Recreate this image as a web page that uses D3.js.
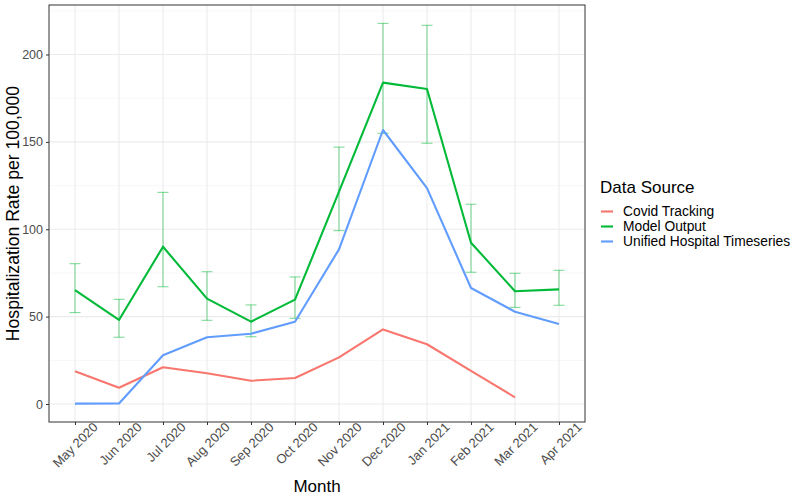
<!DOCTYPE html>
<html><head><meta charset="utf-8">
<script src="https://cdn.jsdelivr.net/npm/d3@7"></script>
<style>body{margin:0;background:#fff;} svg{display:block;font-family:"Liberation Sans",Arial,sans-serif;}</style>
</head><body>
<svg id="c" width="800" height="500"></svg>
<script>
const months = ["May 2020","Jun 2020","Jul 2020","Aug 2020","Sep 2020","Oct 2020","Nov 2020","Dec 2020","Jan 2021","Feb 2021","Mar 2021","Apr 2021"];
const covidTracking = [18.7, 9.3, 21.0, 17.6, 13.3, 14.9, 26.7, 42.7, 34.2, 19.0, 3.8, null];
const modelOutput = [65.2, 48.1, 90.0, 60.3, 47.1, 59.7, 121.5, 183.9, 180.3, 92.3, 64.5, 65.6];
const modelLower = [52.3, 38.2, 67.1, 47.9, 38.5, 49.0, 99.2, 154.9, 149.2, 75.4, 55.3, 56.5];
const modelUpper = [80.3, 59.9, 121.1, 75.7, 56.7, 72.7, 147.0, 217.8, 216.7, 114.3, 74.8, 76.5];
const unifiedHospital = [0.2, 0.3, 27.9, 38.2, 40.2, 47.1, 88.5, 156.8, 123.5, 66.4, 52.8, 45.8];
const yTicks = [0, 50, 100, 150, 200];
const yMinor = [25, 75, 125, 175, 225];
const seriesNames = ["Covid Tracking", "Model Output", "Unified Hospital Timeseries"];
const seriesColors = ["#F8766D", "#00BA38", "#619CFF"];

const svg = d3.select("#c");
const L = 49, R = 585, T = 5, B = 422;
const step = 44;
const x = d3.scalePoint().domain(months).range([75, 75 + step * (months.length - 1)]);
const y = d3.scaleLinear().domain([0, 200]).range([404, 54.5]);

const g = svg.append("g");
// grid
g.selectAll(".ym").data(yMinor).join("line")
  .attr("x1", L).attr("x2", R).attr("y1", d => y(d)).attr("y2", d => y(d))
  .attr("stroke", "#f2f2f2").attr("stroke-width", 0.6);
g.selectAll(".yM").data(yTicks).join("line")
  .attr("x1", L).attr("x2", R).attr("y1", d => y(d)).attr("y2", d => y(d))
  .attr("stroke", "#ebebeb").attr("stroke-width", 1.1);
g.selectAll(".xM").data(months).join("line")
  .attr("x1", d => x(d)).attr("x2", d => x(d)).attr("y1", T).attr("y2", B)
  .attr("stroke", "#ebebeb").attr("stroke-width", 1.1);

// error bars
const eb = g.append("g").attr("stroke", "#00BA38").attr("stroke-opacity", 0.5).attr("stroke-width", 1.1);
months.forEach((m, i) => {
  const cx = x(m);
  eb.append("line").attr("x1", cx).attr("x2", cx).attr("y1", y(modelLower[i])).attr("y2", y(modelUpper[i]));
  eb.append("line").attr("x1", cx - 5.5).attr("x2", cx + 5.5).attr("y1", y(modelLower[i])).attr("y2", y(modelLower[i]));
  eb.append("line").attr("x1", cx - 5.5).attr("x2", cx + 5.5).attr("y1", y(modelUpper[i])).attr("y2", y(modelUpper[i]));
});

const line = d3.line().defined(d => d[1] != null).x(d => x(d[0])).y(d => y(d[1]));
const series = [covidTracking, modelOutput, unifiedHospital];
series.forEach((vals, k) => {
  g.append("path").datum(months.map((m, i) => [m, vals[i]]))
    .attr("d", line).attr("fill", "none").attr("stroke", seriesColors[k])
    .attr("stroke-width", 2.1).attr("stroke-linejoin", "round");
});

// border
svg.append("rect").attr("x", L).attr("y", T).attr("width", R - L).attr("height", B - T)
  .attr("fill", "none").attr("stroke", "#333").attr("stroke-width", 1);

// y axis
const yAx = svg.append("g").attr("transform", `translate(${L},0)`)
  .call(d3.axisLeft(y).tickValues(yTicks).tickSize(3).tickPadding(3).tickFormat(d3.format("d")));
yAx.select(".domain").remove();
yAx.selectAll("line").attr("stroke", "#333");
yAx.selectAll("text").attr("fill", "#4d4d4d").style("font-size", "12.5px").style("font-family", "Liberation Sans, Arial, sans-serif");

// x axis
const xAx = svg.append("g").attr("transform", `translate(0,${B})`)
  .call(d3.axisBottom(x).tickSize(3).tickPadding(3));
xAx.select(".domain").remove();
xAx.selectAll("line").attr("stroke", "#333");
xAx.selectAll("text").attr("fill", "#4d4d4d").style("font-size", "13px")
  .style("font-family", "Liberation Sans, Arial, sans-serif")
  .attr("text-anchor", "end").attr("dy", null).attr("y", 0)
  .attr("transform", "translate(23,6) rotate(-45)");

// titles
svg.append("text").attr("x", (L + R) / 2).attr("y", 492).attr("text-anchor", "middle")
  .style("font-size", "17px").attr("fill", "#000").text("Month");
svg.append("text").attr("transform", `translate(18.5,${(T + B) / 2}) rotate(-90)`).attr("text-anchor", "middle")
  .style("font-size", "17.6px").attr("fill", "#000").text("Hospitalization Rate per 100,000");

// legend
const lg = svg.append("g").attr("transform", "translate(600,0)");
lg.append("text").attr("x", 0).attr("y", 193).style("font-size", "17px").attr("fill", "#000").text("Data Source");
seriesNames.forEach((n, i) => {
  const cy = 211.5 + i * 15;
  lg.append("line").attr("x1", 1).attr("x2", 13).attr("y1", cy).attr("y2", cy)
    .attr("stroke", seriesColors[i]).attr("stroke-width", 2.1);
  lg.append("text").attr("x", 23).attr("y", cy + 4.8).style("font-size", "13.8px").attr("fill", "#000").text(n);
});
</script>
</body></html>
